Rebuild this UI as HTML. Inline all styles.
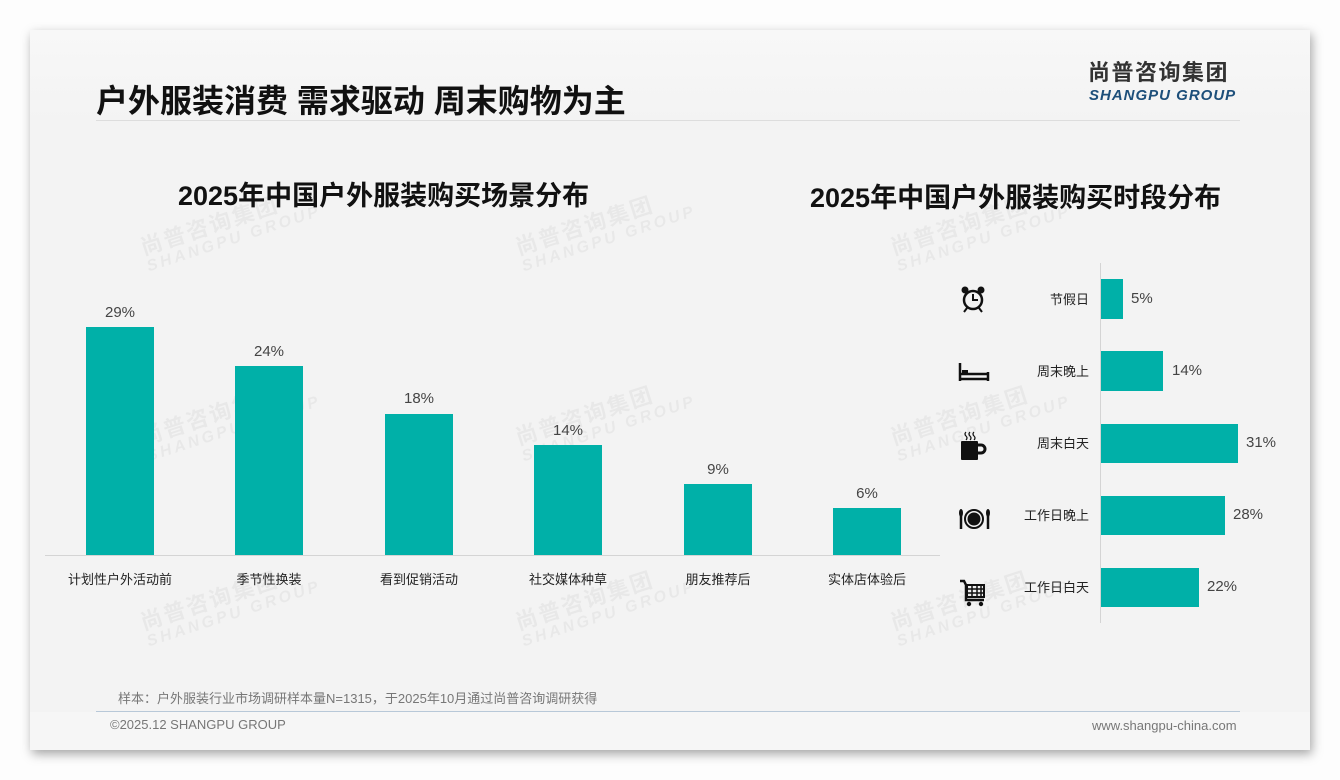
<!DOCTYPE html>
<html><head><meta charset="utf-8"><style>
*{margin:0;padding:0;box-sizing:border-box}
body{width:1340px;height:780px;background:#fdfdfd;position:relative;overflow:hidden;font-family:"Liberation Sans","Noto Sans CJK SC",sans-serif}
.card{position:absolute;left:30px;top:30px;width:1280px;height:720px;background:#f3f3f3;box-shadow:2px 4px 10px rgba(0,0,0,0.35)}
.hdr{position:absolute;left:30px;top:30px;width:1280px;height:90px;background:linear-gradient(#f8f8f8,#f3f3f3)}
.ftr{position:absolute;left:30px;top:712px;width:1280px;height:38px;background:#f6f6f6}
.a{position:absolute;white-space:nowrap}
.bar{position:absolute;background:#00b0a8}
.v{position:absolute;font-size:15px;color:#444;width:80px;text-align:center}
.xl{position:absolute;font-size:13px;color:#222;width:140px;text-align:center;top:569px}
.rl{position:absolute;font-size:13px;color:#222;width:100px;text-align:right;left:989px}
.rv{position:absolute;font-size:15px;color:#444}
.wm{position:absolute;color:rgba(0,0,0,0.045);font-weight:bold;transform:rotate(-18deg);font-size:22px;line-height:20px;letter-spacing:2px}
.wm span{display:block;font-size:16px;font-style:italic;letter-spacing:3px}
</style></head><body>
<div class="card"></div><div class="hdr"></div><div class="ftr"></div>
<div class="a" style="left:96px;top:76px;font-size:32px;font-weight:bold;color:#111">户外服装消费 需求驱动 周末购物为主</div>
<div class="a" style="left:96px;top:120px;width:1144px;height:1px;background:#ddd"></div>
<div class="a" style="left:1088px;top:58px;font-size:22px;line-height:30px;font-weight:bold;color:#333;letter-spacing:1.5px">尚普咨询集团</div>
<div class="a" style="left:1089px;top:87px;font-size:15px;line-height:17px;font-weight:bold;font-style:italic;color:#1d4f7a;letter-spacing:1px">SHANGPU GROUP</div>

<div class="wm" style="left:140px;top:210px">尚普咨询集团<span>SHANGPU GROUP</span></div>
<div class="wm" style="left:515px;top:210px">尚普咨询集团<span>SHANGPU GROUP</span></div>
<div class="wm" style="left:890px;top:210px">尚普咨询集团<span>SHANGPU GROUP</span></div>
<div class="wm" style="left:140px;top:400px">尚普咨询集团<span>SHANGPU GROUP</span></div>
<div class="wm" style="left:515px;top:400px">尚普咨询集团<span>SHANGPU GROUP</span></div>
<div class="wm" style="left:890px;top:400px">尚普咨询集团<span>SHANGPU GROUP</span></div>
<div class="wm" style="left:140px;top:585px">尚普咨询集团<span>SHANGPU GROUP</span></div>
<div class="wm" style="left:515px;top:585px">尚普咨询集团<span>SHANGPU GROUP</span></div>
<div class="wm" style="left:890px;top:585px">尚普咨询集团<span>SHANGPU GROUP</span></div>

<div class="a" style="left:178px;top:174px;font-size:27px;font-weight:bold;color:#111">2025年中国户外服装购买场景分布</div>
<div class="a" style="left:810px;top:176px;font-size:27px;font-weight:bold;color:#111">2025年中国户外服装购买时段分布</div>

<div class="a" style="left:45px;top:555px;width:895px;height:1px;background:#d4d4d4"></div>
<div class="bar" style="left:86px;top:327px;width:68px;height:228px"></div><div class="v" style="left:80px;top:304px">29%</div><div class="xl" style="left:50px">计划性户外活动前</div>
<div class="bar" style="left:235px;top:366px;width:68px;height:189px"></div><div class="v" style="left:229px;top:343px">24%</div><div class="xl" style="left:199px">季节性换装</div>
<div class="bar" style="left:385px;top:414px;width:68px;height:141px"></div><div class="v" style="left:379px;top:390px">18%</div><div class="xl" style="left:349px">看到促销活动</div>
<div class="bar" style="left:534px;top:445px;width:68px;height:110px"></div><div class="v" style="left:528px;top:422px">14%</div><div class="xl" style="left:498px">社交媒体种草</div>
<div class="bar" style="left:684px;top:484px;width:68px;height:71px"></div><div class="v" style="left:678px;top:461px">9%</div><div class="xl" style="left:648px">朋友推荐后</div>
<div class="bar" style="left:833px;top:508px;width:68px;height:47px"></div><div class="v" style="left:827px;top:485px">6%</div><div class="xl" style="left:797px">实体店体验后</div>

<div class="a" style="left:1100px;top:263px;width:1px;height:360px;background:#d4d4d4"></div>
<div class="bar" style="left:1101px;top:279px;width:22px;height:40px"></div><div class="rl" style="top:289px">节假日</div><div class="rv" style="left:1131px;top:290px">5%</div>
<div class="bar" style="left:1101px;top:351px;width:62px;height:40px"></div><div class="rl" style="top:361px">周末晚上</div><div class="rv" style="left:1172px;top:362px">14%</div>
<div class="bar" style="left:1101px;top:424px;width:137px;height:39px"></div><div class="rl" style="top:433px">周末白天</div><div class="rv" style="left:1246px;top:434px">31%</div>
<div class="bar" style="left:1101px;top:496px;width:124px;height:39px"></div><div class="rl" style="top:505px">工作日晚上</div><div class="rv" style="left:1233px;top:506px">28%</div>
<div class="bar" style="left:1101px;top:568px;width:98px;height:39px"></div><div class="rl" style="top:577px">工作日白天</div><div class="rv" style="left:1207px;top:578px">22%</div>

<svg class="a" style="left:958px;top:284px" width="30" height="30" viewBox="0 0 30 30"><circle cx="15" cy="16" r="9" fill="none" stroke="#111" stroke-width="2.5"/><path d="M15 10v6h5" stroke="#111" stroke-width="2" fill="none"/><circle cx="7" cy="6" r="3.5" fill="#111"/><circle cx="23" cy="6" r="3.5" fill="#111"/><path d="M9 24l-3 4M21 24l3 4" stroke="#111" stroke-width="2"/></svg>
<svg class="a" style="left:958px;top:360px" width="32" height="24" viewBox="0 0 32 24"><path d="M2 3v18M30 12v9M2 19h28M2 14h28" stroke="#111" stroke-width="2.5" fill="none"/><rect x="4" y="10" width="6" height="4" fill="#111"/></svg>
<svg class="a" style="left:958px;top:430px" width="30" height="32" viewBox="0 0 30 32"><rect x="3" y="11" width="17" height="19" rx="1" fill="#111"/><path d="M20 15h3a4 4 0 010 8h-3" stroke="#111" stroke-width="3" fill="none"/><path d="M8 2q-2 2 0 4t0 4M12 2q-2 2 0 4t0 4M16 2q-2 2 0 4t0 4" stroke="#111" stroke-width="1.2" fill="none"/></svg>
<svg class="a" style="left:956px;top:507px" width="36" height="24" viewBox="0 0 36 24"><circle cx="18" cy="12" r="9" fill="none" stroke="#111" stroke-width="2"/><circle cx="18" cy="12" r="6.5" fill="#111"/><path d="M5 3v19M32 3v19" stroke="#111" stroke-width="2.5"/><ellipse cx="5" cy="6" rx="2" ry="4" fill="#111"/><ellipse cx="32" cy="6" rx="2" ry="4" fill="#111"/></svg>
<svg class="a" style="left:958px;top:578px" width="30" height="30" viewBox="0 0 30 30"><path d="M2 3h4l2 4v15h18" stroke="#111" stroke-width="2.5" fill="none"/><rect x="9" y="7" width="17" height="12" fill="none" stroke="#111" stroke-width="2"/><path d="M9 11h17M9 15h17M14 7v12M19 7v12M23 7v12" stroke="#111" stroke-width="1.5"/><circle cx="11" cy="26" r="2.2" fill="#111"/><circle cx="23" cy="26" r="2.2" fill="#111"/></svg>

<div class="a" style="left:118px;top:688px;font-size:13px;color:#777">样本：户外服装行业市场调研样本量N=1315，于2025年10月通过尚普咨询调研获得</div>
<div class="a" style="left:96px;top:711px;width:1144px;height:1px;background:#b8c8d8"></div>
<div class="a" style="left:110px;top:717px;font-size:13px;color:#777">©2025.12 SHANGPU GROUP</div>
<div class="a" style="left:1092px;top:718px;font-size:13px;color:#777">www.shangpu-china.com</div>
</body></html>
